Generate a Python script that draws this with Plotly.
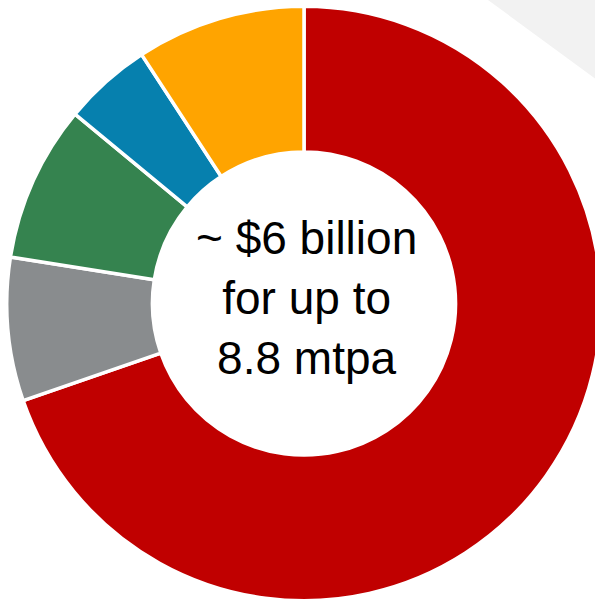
import plotly.graph_objects as go

labels = ["Segment A", "Segment B", "Segment C", "Segment D", "Segment E"]
values = [69.7, 7.8, 8.5, 4.8, 9.2]
colors = ["#C00000", "#898C8E", "#35834F", "#0680AE", "#FFA400"]
center_text = "~ $6 billion<br>for up to<br>8.8 mtpa"

W, H = 604, 604
cx, cy, r = 304, 303.5, 297.2

fig = go.Figure(
    go.Pie(
        labels=labels,
        values=values,
        hole=0.51,
        sort=False,
        direction="clockwise",
        rotation=0,
        marker=dict(colors=colors, line=dict(color="white", width=3.5)),
        textinfo="none",
        hoverinfo="label+percent",
        domain=dict(x=[(cx - r) / W, (cx + r) / W],
                    y=[1 - (cy + r) / H, 1 - (cy - r) / H]),
        showlegend=False,
    )
)

fig.add_annotation(
    text=center_text,
    x=306 / W, y=1 - 298 / H, xref="paper", yref="paper",
    xanchor="center", yanchor="middle", showarrow=False,
    font=dict(family="Liberation Sans", size=46, color="black"),
)

fig.add_shape(
    type="path", xref="paper", yref="paper",
    path=f"M {488 / W} 1 L 1 1 L 1 {1 - 85 / H} Z",
    fillcolor="#F2F2F2", line=dict(width=0), layer="below",
)

fig.update_layout(
    width=W, height=H,
    margin=dict(l=0, r=0, t=0, b=0),
    paper_bgcolor="white", plot_bgcolor="white",
)

fig.write_html("out.html")
